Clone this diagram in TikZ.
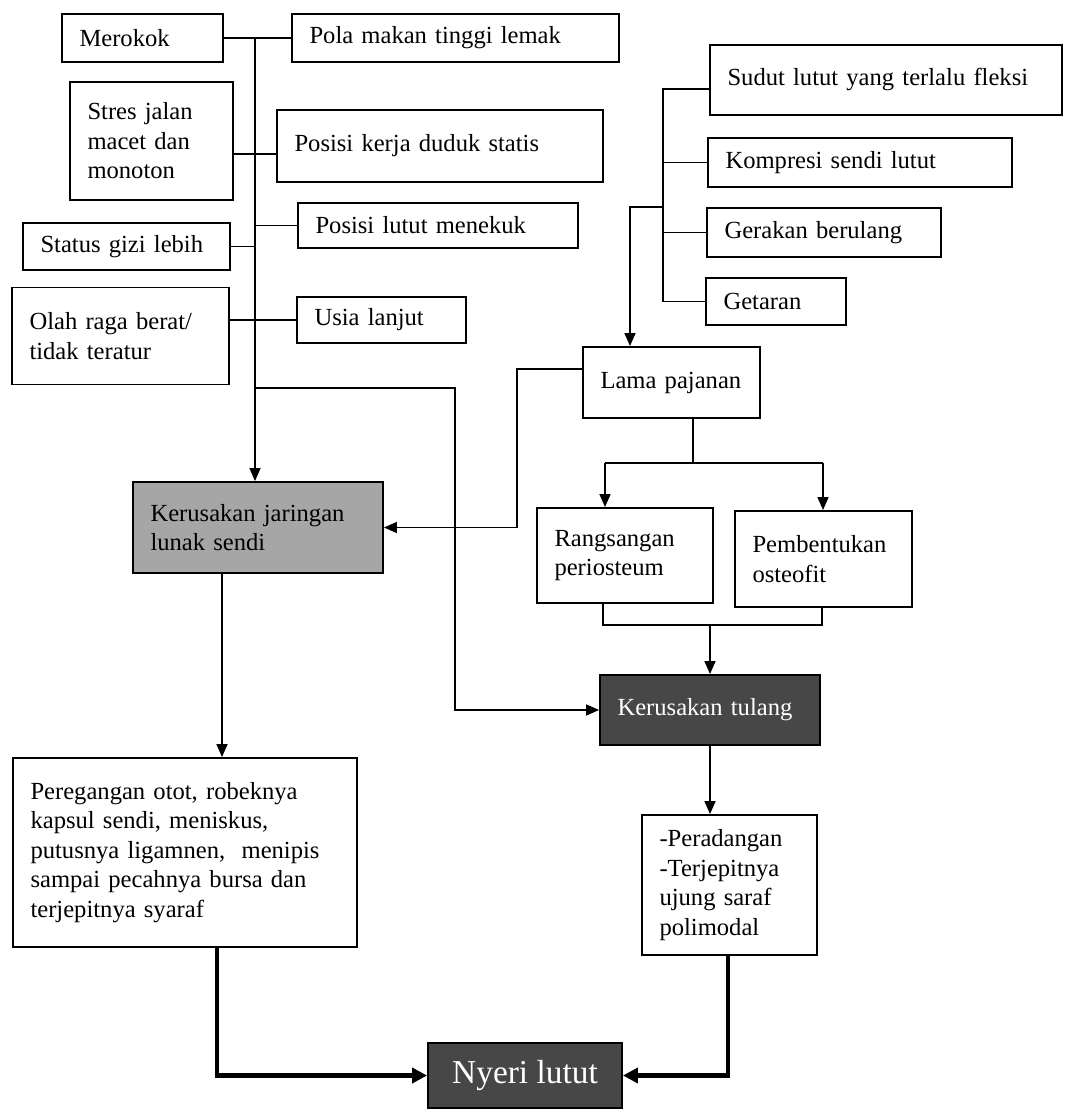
\documentclass[tikz,border=0pt]{standalone}
\usepackage{fontspec}
\setmainfont{Liberation Serif}
\usepackage{tikz}
\usetikzlibrary{arrows.meta}
\newcommand\boxfont{\fontsize{14}{16.8}\selectfont}
\tikzset{
  box/.style={draw, line width=1.1pt, inner xsep=0.35cm, inner ysep=0pt, align=left, font=\boxfont},
  darkbox/.style={box, fill=black!72, text=white},
  greybox/.style={box, fill=black!35},
  line/.style={line width=0.9pt},
  arr/.style={line width=0.9pt, -{Triangle[length=0.26cm,width=0.22cm]}},
  thickarr/.style={line width=2.6pt, -{Triangle[length=0.3cm,width=0.3cm]}}
}
\begin{document}
\begin{tikzpicture}[x=0.02cm,y=-0.02cm]
\useasboundingbox (0,0) rectangle (1064,1114);
\node[box, text width=2.52cm, minimum height=0.96cm] (merokok) at (142.5,38) {Merokok};
\node[box, text width=5.84cm, minimum height=0.96cm] (pola) at (455.5,38) {Pola makan tinggi lemak};
\node[box, text width=2.56cm, minimum height=2.36cm] (stres) at (151.5,141) {Stres jalan\\macet dan\\monoton};
\node[box, text width=5.82cm, minimum height=1.44cm] (kerja) at (440,146) {Posisi kerja duduk statis};
\node[box, text width=4.9cm, minimum height=0.9cm] (lutut) at (438,225.5) {Posisi lutut menekuk};
\node[box, text width=3.44cm, minimum height=0.94cm] (gizi) at (126.5,246.5) {Status gizi lebih};
\node[box, text width=3.64cm, minimum height=1.94cm] (olah) at (120.5,336) {Olah raga berat/\\tidak teratur};
\node[box, text width=2.68cm, minimum height=0.92cm] (usia) at (381.5,320) {Usia lanjut};
\node[greybox, text width=4.3cm, minimum height=1.82cm] (jaringan) at (258,527.5) {Kerusakan jaringan\\lunak sendi};

\node[box, text width=6.34cm, minimum height=1.4cm] (sudut) at (886,80) {Sudut lutut yang terlalu fleksi};
\node[box, text width=5.38cm, minimum height=0.98cm] (kompresi) at (860,162.5) {Kompresi sendi lutut};
\node[box, text width=3.98cm, minimum height=0.98cm] (gerakan) at (824,232.5) {Gerakan berulang};
\node[box, text width=2.1cm, minimum height=0.94cm] (getaran) at (776,301.5) {Getaran};
\node[box, text width=2.84cm, minimum height=1.42cm] (lama) at (671.5,382.5) {Lama pajanan};
\node[box, text width=2.82cm, minimum height=1.9cm] (rang) at (625,555.5) {Rangsangan\\periosteum};
\node[box, text width=2.84cm, minimum height=1.92cm] (pemb) at (823.5,559) {Pembentukan\\osteofit};
\node[darkbox, text width=3.7cm, minimum height=1.4cm] (tulang) at (710,710) {Kerusakan tulang};
\node[box, text width=2.8cm, minimum height=2.8cm] (radang) at (729.5,885) {-Peradangan\\-Terjepitnya\\ujung saraf\\polimodal};
\node[box, text width=6.18cm, minimum height=3.78cm] (regang) at (185,852.5) {Peregangan otot, robeknya\\kapsul sendi, meniskus,\\putusnya ligamnen,~ menipis\\sampai pecahnya bursa dan\\terjepitnya syaraf};
\node[darkbox, align=center, inner xsep=0pt, minimum width=3.88cm, minimum height=1.3cm, font=\fontsize{19}{22}\selectfont] (nyeri) at (525,1075.5) {Nyeri lutut};

\coordinate (trunk) at (255,38);
\draw[line] (merokok.east) -- (pola.west);
\draw[arr] (trunk) -- (trunk |- jaringan.north);
\draw[line] (stres.east |- 0,154) -- (kerja.west |- 0,154);
\draw[line] (trunk |- lutut.west) -- (lutut.west);
\draw[line] (gizi.east) -- (trunk |- gizi.east);
\draw[line] (olah.east |- usia.west) -- (usia.west);
\coordinate (bend) at (455,388);
\draw[arr] (trunk |- bend) -- (bend) |- (tulang.west);

\coordinate (spine) at (663,89);
\draw[line] (sudut.west |- spine) -- (spine) -- (spine |- getaran.west) -- (getaran.west);
\draw[line] (spine |- kompresi.west) -- (kompresi.west);
\draw[line] (spine |- gerakan.west) -- (gerakan.west);
\coordinate (lamain) at (630,207);
\draw[arr] (spine |- lamain) -- (lamain) -- (lamain |- lama.north);
\coordinate (lamaout) at (517,369);
\draw[arr] (lama.west |- lamaout) -- (lamaout) |- (jaringan.east);

\coordinate (split) at (693,463);
\coordinate (splitL) at (605,463);
\coordinate (splitR) at (823,463);
\draw[line] (lama.south -| split) -- (split);
\draw[line] (splitL) -- (splitR);
\draw[arr] (splitL) -- (splitL |- rang.north);
\draw[arr] (splitR) -- (splitR |- pemb.north);
\coordinate (joinL) at (603,625);
\coordinate (joinR) at (822,625);
\draw[line] (joinL |- rang.south) -- (joinL) -- (joinR) -- (joinR |- pemb.south);
\draw[arr] (joinL -| tulang.north) -- (tulang.north);
\draw[arr] (tulang.south) -- (tulang.south |- radang.north);

\coordinate (jdown) at (222,600);
\draw[arr] (jaringan.south -| jdown) -- (jdown |- regang.north);
\coordinate (lb) at (217,0);
\coordinate (rb) at (728,0);
\draw[thickarr] (regang.south -| lb) |- (nyeri.west);
\draw[thickarr] (radang.south -| rb) |- (nyeri.east);
\end{tikzpicture}
\end{document}
